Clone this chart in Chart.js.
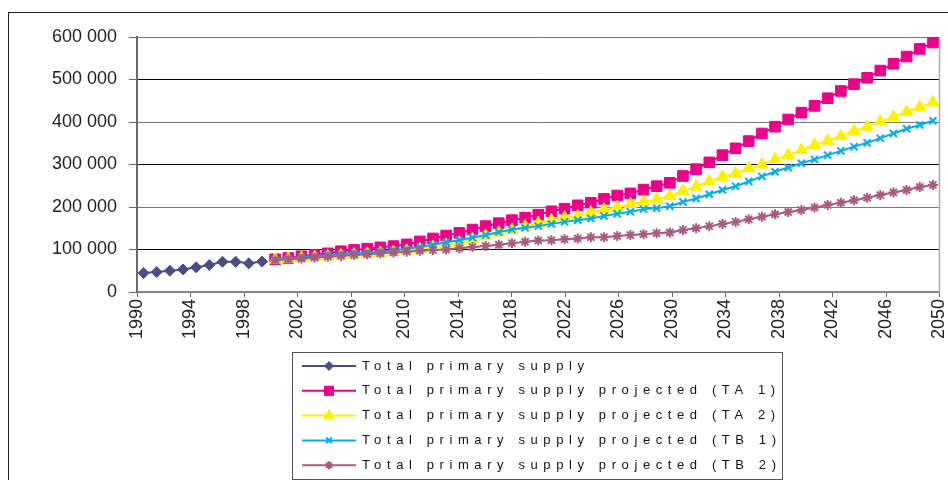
<!DOCTYPE html>
<html>
<head>
<meta charset="utf-8">
<script src="https://cdn.jsdelivr.net/npm/chart.js@4.4.1/dist/chart.umd.min.js"></script>
<style>
  html, body { margin: 0; padding: 0; background: #fff; }
  #wrap { position: relative; width: 948px; height: 480px; overflow: hidden; }
  #frame { position: absolute; left: 8px; top: 12px; width: 1000px; height: 600px; border-left: 1px solid #222; border-top: 1px solid #222; }
  canvas { position: absolute; left: 0; top: 0; }
</style>
</head>
<body>
<div id="wrap">
  <div id="frame"></div>
  <canvas id="supplyChart" width="948" height="480"></canvas>
</div>
<script>
const firstYear = 1990;
const lastYear = 2050;
const projStart = 2000;

const yTicks = [0, 100000, 200000, 300000, 400000, 500000, 600000];

const totalSupply = [44500, 47000, 50000, 53000, 58000, 63500, 71000, 71000, 67500, 71500];

const projTA1 = [77000, 80000, 84000, 87000, 91000, 96000, 99000, 102000, 105000, 108000,
  112000, 119000, 126000, 133000, 139000, 147000, 155000, 162000, 169000, 175000,
  182000, 190000, 196000, 204000, 210000, 219000, 227000, 232000, 241000, 249000,
  257000, 273000, 289000, 305000, 322000, 338000, 355000, 373000, 389000, 406000,
  422000, 438000, 456000, 473000, 489000, 504000, 521000, 537000, 554000, 572000,
  587000];

const projTA2 = [76000, 78000, 80000, 82000, 84000, 86000, 88000, 90000, 92000, 94000,
  97000, 101000, 106000, 111000, 116000, 124000, 132000, 140000, 146000, 154000,
  162000, 169000, 175000, 178000, 187000, 194000, 199000, 207000, 212000, 218000,
  226000, 238000, 248000, 260000, 271000, 279000, 291000, 300000, 312000, 322000,
  334000, 346000, 356000, 367000, 379000, 389000, 401000, 412000, 424000, 435000,
  446000];

const projTB1 = [76000, 79000, 82000, 84000, 87000, 89000, 91000, 93000, 95000, 98000,
  101000, 106000, 111000, 117000, 122000, 128000, 134000, 141000, 147000, 151000,
  155000, 160000, 165000, 169000, 173000, 179000, 184000, 189000, 195000, 197000,
  202000, 212000, 220000, 230000, 240000, 249000, 260000, 272000, 283000, 293000,
  303000, 312000, 322000, 332000, 342000, 351000, 362000, 373000, 384000, 393000,
  403000];

const projTB2 = [75000, 77000, 79000, 81000, 83000, 85000, 87000, 89000, 91000, 93000,
  95000, 97000, 99000, 100000, 103000, 106000, 108000, 111000, 115000, 118000,
  121000, 122000, 124000, 126000, 129000, 129000, 132000, 134000, 136000, 138000,
  140000, 146000, 150000, 155000, 160000, 165000, 171000, 177000, 183000, 188000,
  193000, 199000, 205000, 210000, 216000, 222000, 228000, 234000, 240000, 247000,
  252000];

const seriesNames = [
  'Total primary supply',
  'Total primary supply projected (TA 1)',
  'Total primary supply projected (TA 2)',
  'Total primary supply projected (TB 1)',
  'Total primary supply projected (TB 2)'
];

// category labels, one per year
const years = [];
for (let y = firstYear; y <= lastYear; y++) years.push(String(y));

// put a series on the year grid, nulls elsewhere
function onYears(start, values) {
  const out = years.map(() => null);
  values.forEach((v, i) => { out[start - firstYear + i] = v; });
  return out;
}

function spaced(v) {
  return String(v).replace(/\B(?=(\d{3})+(?!\d))/g, ' ');
}

function series(label, start, values, color, style, radius, bw, order) {
  return {
    label: label,
    data: onYears(start, values),
    xAxisID: 'xc',
    borderColor: color,
    backgroundColor: color,
    pointBackgroundColor: color,
    pointBorderColor: color,
    pointStyle: style,
    pointRadius: radius,
    pointBorderWidth: bw,
    borderWidth: 2,
    tension: 0,
    spanGaps: false,
    order: order
  };
}

const legendBox = {
  id: 'legendBox',
  beforeDatasetsDraw(chart) {
    const ctx = chart.ctx, a = chart.chartArea;
    ctx.save();
    ctx.strokeStyle = '#aaa';
    ctx.lineWidth = 1.5;
    ctx.beginPath();
    ctx.moveTo(a.right, a.top);
    ctx.lineTo(a.right, a.bottom);
    ctx.stroke();
    ctx.restore();
  },
  afterDraw(chart) {
    const ctx = chart.ctx;
    ctx.save();
    ctx.strokeStyle = '#555';
    ctx.lineWidth = 1;
    ctx.strokeRect(292.5, 352.5, 490, 127);
    ctx.font = '13px "Liberation Sans", Arial, sans-serif';
    ctx.letterSpacing = '5.6px';
    ctx.textBaseline = 'middle';
    chart.data.datasets.forEach((ds, i) => {
      const y = 366 + i * 24.8;
      ctx.strokeStyle = ds.borderColor;
      ctx.lineWidth = 2;
      ctx.beginPath();
      ctx.moveTo(302, y);
      ctx.lineTo(356, y);
      ctx.stroke();
      ctx.fillStyle = ds.pointBackgroundColor;
      ctx.lineWidth = ds.pointBorderWidth;
      Chart.helpers.drawPoint(ctx, {
        pointStyle: ds.pointStyle,
        radius: ds.pointRadius - 1,
        rotation: 0,
        borderWidth: ds.pointBorderWidth
      }, 329, y);
      ctx.fillStyle = '#111';
      ctx.fillText(ds.label, 362, y);
    });
    ctx.restore();
  }
};

const tickFont = { family: '"Liberation Sans", Arial, sans-serif', size: 18 };

new Chart(document.getElementById('supplyChart').getContext('2d'), {
  type: 'line',
  data: {
    labels: years,
    datasets: [
      series(seriesNames[0], firstYear, totalSupply, '#4d4d85', 'rectRot', 5.5, 1, 5),
      series(seriesNames[1], projStart, projTA1, '#ec008c', 'rect', 7.5, 1, 4),
      series(seriesNames[2], projStart, projTA2, '#fff000', 'triangle', 7, 1, 3),
      series(seriesNames[3], projStart, projTB1, '#00aeef', 'crossRot', 5, 2, 2),
      series(seriesNames[4], projStart, projTB2, '#aa5a82', 'star', 5, 2, 1)
    ]
  },
  options: {
    responsive: false,
    animation: false,
    events: [],
    layout: { padding: { left: 0, top: 37, right: 8, bottom: 0 } },
    plugins: { legend: { display: false }, tooltip: { enabled: false } },
    scales: {
      xc: {
        type: 'category',
        position: 'bottom',
        offset: true,
        display: false
      },
      x: {
        type: 'linear',
        position: 'bottom',
        min: firstYear,
        max: lastYear,
        afterFit: (s) => { s.height = 188; s.paddingLeft = 0; s.paddingRight = 0; },
        border: { color: '#888', width: 1.5 },
        grid: { drawOnChartArea: false, tickLength: 5, color: '#666' },
        ticks: {
          stepSize: 4,
          autoSkip: false,
          minRotation: 90,
          maxRotation: 90,
          padding: 2,
          color: '#222',
          font: tickFont,
          callback: (v) => String(v)
        }
      },
      y: {
        min: yTicks[0],
        max: yTicks[yTicks.length - 1],
        afterFit: (s) => { s.width = 137; s.paddingTop = 0; s.paddingBottom = 0; },
        afterBuildTicks: (s) => { s.ticks = yTicks.map(v => ({ value: v })); },
        border: { color: '#6a6a6a', width: 2 },
        grid: {
          tickLength: 8,
          tickColor: '#666',
          lineWidth: 1,
          color: (c) => (c.tick && (c.tick.value / 100000) % 2 === 0) ? '#7a7a7a' : '#000'
        },
        ticks: {
          padding: 12,
          color: '#222',
          font: tickFont,
          callback: (v) => spaced(v)
        }
      }
    }
  },
  plugins: [legendBox]
});
</script>
</body>
</html>
